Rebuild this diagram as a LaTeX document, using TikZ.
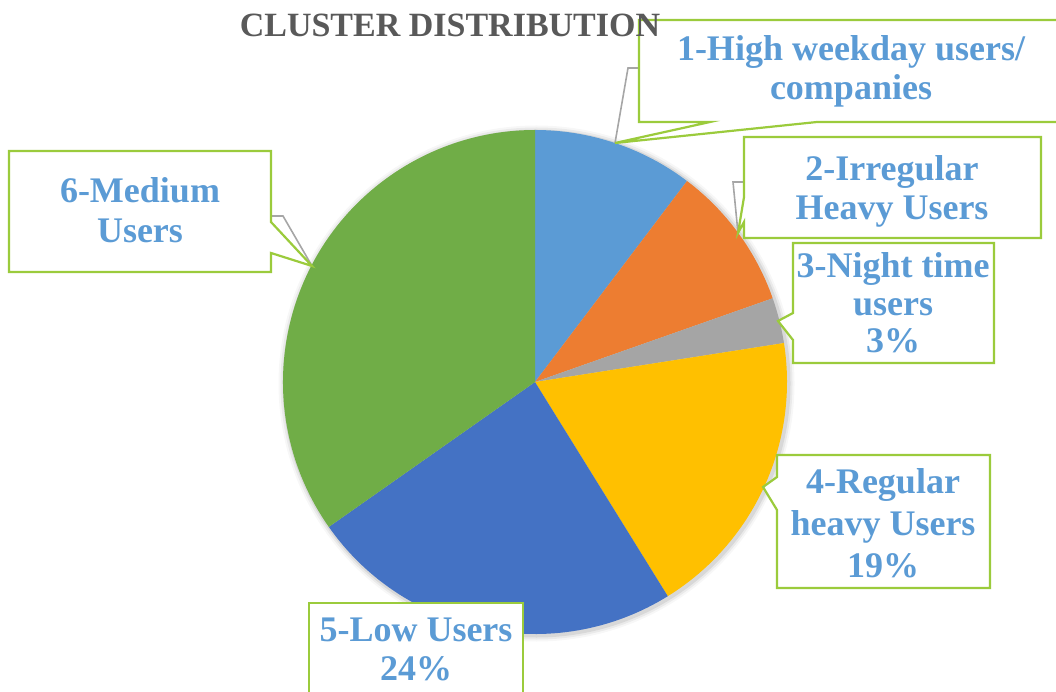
\documentclass[tikz,border=0pt]{standalone}
\usepackage{fontspec}
\setmainfont{Liberation Serif}
\usetikzlibrary{positioning,calc}

\definecolor{sliceA}{HTML}{5B9BD5}
\definecolor{sliceB}{HTML}{ED7D31}
\definecolor{sliceC}{HTML}{A5A5A5}
\definecolor{sliceD}{HTML}{FFC000}
\definecolor{sliceE}{HTML}{4472C4}
\definecolor{sliceF}{HTML}{70AD47}
\definecolor{labblue}{HTML}{5B9BD5}
\definecolor{boxgreen}{HTML}{9BCB3C}
\definecolor{leadgray}{HTML}{A6A6A6}
\definecolor{titlegray}{HTML}{595959}

\tikzset{
  callout/.style={draw=boxgreen,line width=2.2pt,fill=white,line join=miter},
  leader/.style={draw=leadgray,line width=1.6pt},
  labtext/.style={font=\bfseries\fontsize{36}{39}\selectfont,text=labblue,
    align=center,inner sep=0pt,anchor=base},
}

\begin{document}
\begin{tikzpicture}[x=1pt,y=1pt]
\useasboundingbox (0,0) rectangle (1056,691);
\coordinate (pie) at (535,309);
% soft edge round the pie
\foreach \r/\o in {258/0.03,256/0.05,254/0.08}
  \fill[black,opacity=\o] ([shift={(1.5,-1.5)}]pie) circle (\r);
% slices
\fill[sliceA] (pie) -- ++(90:252) arc[start angle=90,end angle=52.9,radius=252] -- cycle;
\fill[sliceB] (pie) -- ++(52.9:252) arc[start angle=52.9,end angle=19.4,radius=252] -- cycle;
\fill[sliceC] (pie) -- ++(19.4:252) arc[start angle=19.4,end angle=8.9,radius=252] -- cycle;
\fill[sliceD] (pie) -- ++(8.9:252) arc[start angle=8.9,end angle=-58.2,radius=252] -- cycle;
\fill[sliceE] (pie) -- ++(-58.2:252) arc[start angle=-58.2,end angle=-144.9,radius=252] -- cycle;
\fill[sliceF] (pie) -- ++(-144.9:252) arc[start angle=-144.9,end angle=-270,radius=252] -- cycle;

% C1 (text nodes sit on the baseline of their last line)
\coordinate (tip1) at (615,548);
\coordinate (bend1) at (628,623);
\draw[leader] (tip1) -- (bend1) -- ++(11,0);
\draw[callout] (639,671) -- (1064,671) -- (1064,569) -- (817,569)
  -- (tip1) -- (710,569) -- (639,569) -- cycle;
\node[labtext] (lab1) at (851,591) {1-High weekday users/\\companies};
% C2
\coordinate (tip2) at (738,458);
\coordinate (bend2) at (733,509);
\draw[leader] (tip2) -- (bend2) -- ++(11,0);
\draw[callout] (744,554) -- (1041,554) -- (1041,453) -- (744,453)
  -- (744,469) -- (tip2) -- (744,494) -- cycle;
\node[labtext] (lab2) at (892,471) {2-Irregular\\Heavy Users};
% C3
\coordinate (tip3) at (778,370);
\draw[callout] (793,448) -- (994,448) -- (994,328) -- (793,328)
  -- (793,351) -- (tip3) -- (793,378) -- cycle;
\node[labtext,font=\bfseries\fontsize{36}{37.5}\selectfont] (lab3) at (893,338)
  {3-Night time\\users\\3\%};
% C4
\coordinate (tip4) at (763,204);
\draw[callout] (777,236) -- (990,236) -- (990,103) -- (777,103)
  -- (777,181) -- (tip4) -- (777,214) -- cycle;
\node[labtext,font=\bfseries\fontsize{36}{42}\selectfont] (lab4) at (883,114)
  {4-Regular\\heavy Users\\19\%};
% C5
\draw[callout] (309,88) -- (523,88) -- (523,-20) -- (309,-20) -- cycle;
\node[labtext] (lab5) at (416,11) {5-Low Users\\24\%};
% C6
\coordinate (tip6) at (312,425);
\coordinate (bend6) at (283,475);
\draw[leader] (tip6) -- (bend6) -- ++(-12,0);
\draw[callout] (9,540) -- (271,540) -- (271,469) -- (tip6) -- (271,438)
  -- (271,419) -- (9,419) -- cycle;
\node[labtext,font=\bfseries\fontsize{36}{40}\selectfont] (lab6) at (140,448)
  {6-Medium\\Users};

\node[anchor=base,inner sep=0pt,text=titlegray,
  font=\bfseries\fontsize{34}{40}\selectfont] (title) at (450,654)
  {CLUSTER DISTRIBUTION};
\end{tikzpicture}
\end{document}
